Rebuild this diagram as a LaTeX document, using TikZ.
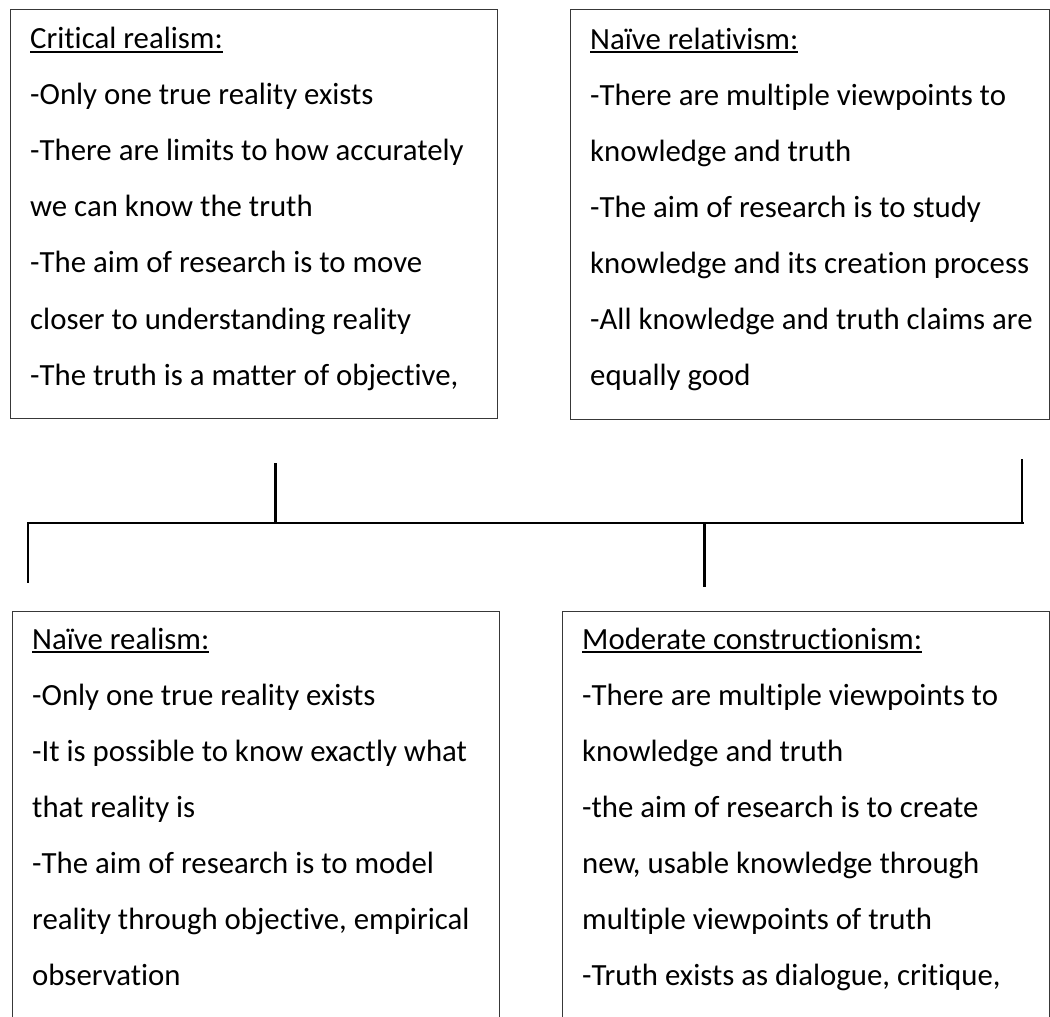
\documentclass[tikz,border=0pt]{standalone}
\usepackage{fontspec}
\setmainfont{Carlito}[Ligatures={TeX,NoCommon}]
% underlined heading, rule placed just below the baseline
\newcommand{\ulhead}[1]{\setbox0\hbox{#1}\rlap{\rule[-4pt]{\wd0}{1.8pt}}\box0}
\begin{document}
\begin{tikzpicture}[x=1pt,y=-1pt,
  frame/.style={draw=black!78, line width=1.4pt, anchor=north west, inner sep=0pt},
  body/.style={anchor=north west, inner sep=0pt, align=left,
    font=\fontsize{30.8}{56.1}\selectfont},
  link/.style={draw=black, line width=2.7pt}]
\useasboundingbox (0,0) rectangle (1050,1017);
\fill[white] (0,0) rectangle (1050,1017);

% frames
\node[frame, minimum width=487pt, minimum height=409pt] (cr) at (10,9) {};
\node[frame, minimum width=479pt, minimum height=410pt] (nrel) at (570,9) {};
\node[frame, minimum width=487pt, minimum height=430pt] (nreal) at (12,611) {};
\node[frame, minimum width=487pt, minimum height=430pt] (mc) at (562,611) {};

% texts (first line set by a 24pt strut above its baseline)
\node[body] (crtext) at (30,24.3) {\rule{0pt}{24pt}\ulhead{Critical realism:}\\
-Only one true reality exists\\
-There are limits to how accurately\\
we can know the truth\\
-The aim of research is to move\\
closer to understanding reality\\
-The truth is a matter of objective,};

\node[body] (nreltext) at (590,24.8) {\rule{0pt}{24pt}\ulhead{Naïve relativism:}\\
-There are multiple viewpoints to\\
knowledge and truth\\
-The aim of research is to study\\
knowledge and its creation process\\
-All knowledge and truth claims are\\
equally good};

\node[body] (nrealtext) at (32,625) {\rule{0pt}{24pt}\ulhead{Naïve realism:}\\
-Only one true reality exists\\
-It is possible to know exactly what\\
that reality is\\
-The aim of research is to model\\
reality through objective, empirical\\
observation};

\node[body] (mctext) at (582,625) {\rule{0pt}{24pt}\ulhead{Moderate constructionism:}\\
-There are multiple viewpoints to\\
knowledge and truth\\
-the aim of research is to create\\
new, usable knowledge through\\
multiple viewpoints of truth\\
-Truth exists as dialogue, critique,};

% connector ends
\coordinate (crstem) at (275.5,463);
\coordinate (crfoot) at (275.5,523);
\coordinate (nrstem) at (1022,459);
\coordinate (nrfoot) at (1022,523);
\coordinate (barL) at (27,523);
\coordinate (barR) at (1023.5,523);
\coordinate (nrealtop) at (28,523);
\coordinate (nrealstem) at (28,583);
\coordinate (mctop) at (704.5,524);
\coordinate (mcstem) at (704.5,587);

% connectors
\draw[link] (barL) -- (barR);
\draw[link] (crstem) -- (crfoot);
\draw[link] (nrstem) -- (nrfoot);
\draw[link] (nrealtop) -- (nrealstem);
\draw[link] (mctop) -- (mcstem);
\end{tikzpicture}
\end{document}
